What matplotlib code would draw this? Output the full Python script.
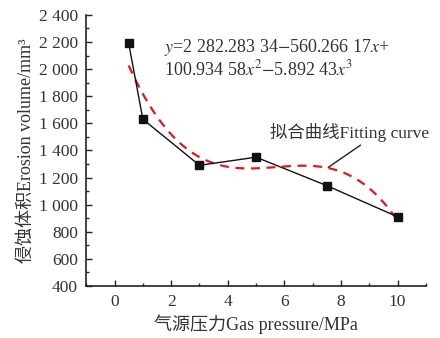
import numpy as np
import matplotlib
matplotlib.use("Agg")
import matplotlib.pyplot as plt
from matplotlib.ticker import MultipleLocator

plt.rcParams['font.family'] = ['Liberation Serif', 'Noto Sans CJK SC']
plt.rcParams['mathtext.fontset'] = 'stix'

pressure = [0.5, 1, 3, 5, 7.5, 10]
volume = [2190, 1630, 1290, 1350, 1140, 910]
coef = [2282.28334, -560.26617, 100.93458, -5.89243]  # fit coefficients c0..c3
yticks = [400, 600, 800, 1000, 1200, 1400, 1600, 1800, 2000, 2200, 2400]
ytick_labels = ["400", "600", "800", "1 000", "1 200", "1 400", "1 600", "1 800", "2 000", "2 200", "2 400"]
xticks = [0, 2, 4, 6, 8, 10]

tc = '#333333'
fig = plt.figure(figsize=(4.4, 3.38), dpi=100)
ax = fig.add_axes([0.196, 0.154, 0.772, 0.802])

xf = np.linspace(0.5, 10, 200)
yf = coef[0] + coef[1]*xf + coef[2]*xf**2 + coef[3]*xf**3
ax.plot(xf, yf, color='#e8141c', lw=1.6, ls=(0, (4, 3)), zorder=2)
ax.plot(pressure, volume, color='#111111', lw=1.0, marker='s', ms=5.5, zorder=3)

ax.set_xlim(-1, 11)
ax.set_ylim(400, 2400)
ax.set_xticks(xticks)
ax.xaxis.set_minor_locator(MultipleLocator(1))
ax.set_yticks(yticks)
ax.set_yticklabels(ytick_labels)
ax.yaxis.set_minor_locator(MultipleLocator(100))
ax.tick_params(which='both', direction='in', colors='#222222', labelcolor=tc, labelsize=12.5, width=1)
ax.tick_params(which='major', length=4)
ax.tick_params(which='minor', length=2.5)
ax.tick_params(axis='x', pad=6)
ax.tick_params(axis='y', pad=6)
for s in ['top', 'right']:
    ax.spines[s].set_visible(False)
for s in ['left', 'bottom']:
    ax.spines[s].set_color('#222222')
    ax.spines[s].set_linewidth(1.2)

ax.set_xlabel('气源压力Gas pressure/MPa', fontsize=13, color=tc, labelpad=3)
ax.set_ylabel('侵蚀体积Erosion volume/mm³', fontsize=13, color=tc, labelpad=3)

ax.text(1.75, 2125, r'$y$=2 282.283 34$-$560.266 17$x$+', fontsize=13, color=tc)
ax.text(1.75, 1950, r'100.934 58$x^2$$-$5.892 43$x^3$', fontsize=13, color=tc)

ax.annotate('拟合曲线Fitting curve', xy=(7.55, 1275), xytext=(5.5, 1495),
            fontsize=12.5, color=tc,
            arrowprops=dict(arrowstyle='-', color='#222222', lw=1,
                            shrinkA=1, shrinkB=0, relpos=(0.6, 0)))

fig.savefig('out.png', dpi=100)
